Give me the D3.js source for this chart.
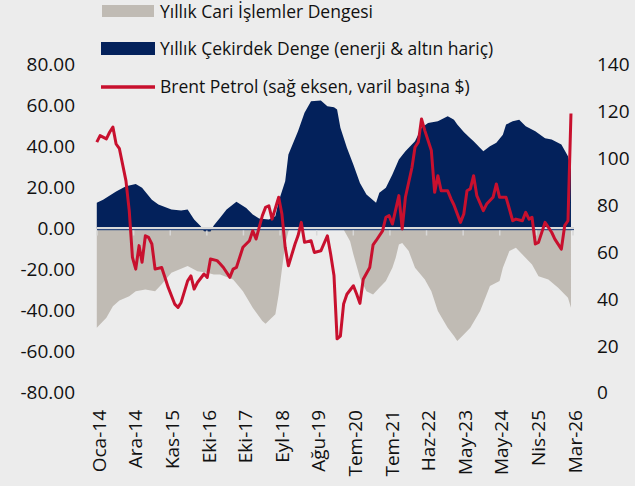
<!DOCTYPE html>
<html><head><meta charset="utf-8">
<script src="https://cdn.jsdelivr.net/npm/d3@7"></script>
<style>html,body{margin:0;padding:0;background:#ECECEC;} svg{display:block;}</style>
</head><body><svg id="c" width="635" height="486"></svg>
<script>
// ---------- DATA ----------
const seriesNames = ["Yıllık Cari İşlemler Dengesi", "Yıllık Çekirdek Denge (enerji & altın hariç)", "Brent Petrol (sağ eksen, varil başına $)"];

const currentDates = ["2014-01","2014-04","2014-06","2014-08","2014-11","2015-01","2015-04","2015-07","2015-09","2015-12","2016-05","2016-08","2016-11","2017-01","2017-03","2017-07","2017-10","2018-01","2018-04","2018-05","2018-08","2018-09","2018-10","2018-11","2018-12","2019-02","2019-05","2019-08","2019-11","2020-02","2020-04","2020-05","2020-07","2020-08","2020-10","2020-12","2021-02","2021-04","2021-06","2021-08","2021-09","2021-10","2021-11","2022-01","2022-03","2022-06","2022-08","2022-10","2023-01","2023-03","2023-04","2023-06","2023-08","2023-11","2024-01","2024-02","2024-05","2024-06","2024-08","2024-10","2024-12","2025-03","2025-05","2025-08","2025-11","2026-02","2026-03"];
const currentValues = [-48.3,-43.4,-37.8,-35,-33,-30.5,-29.7,-30.5,-27.2,-21.5,-18.3,-20.8,-21.5,-22.4,-22.4,-24.8,-30.5,-38.6,-45.1,-46.4,-41.8,-32.1,-20,-7.8,-1.3,3,6,8,7,4,1,-0.5,-6.2,-12.6,-24,-30.5,-32.1,-28.8,-25.6,-19.1,-14.3,-7.8,-7,-11,-19.1,-24.8,-30.5,-40.2,-48.3,-52.4,-54.8,-51.6,-48.3,-40.2,-32.1,-28,-25.6,-19.1,-11,-9.4,-12.6,-17.5,-23.2,-24.8,-28.8,-33.7,-38.6];

const coreDates = ["2014-01","2014-03","2014-07","2014-10","2015-01","2015-03","2015-06","2015-08","2015-12","2016-03","2016-05","2016-07","2016-09","2016-10","2016-12","2017-01","2017-03","2017-05","2017-08","2017-11","2018-01","2018-03","2018-06","2018-08","2018-09","2018-11","2018-12","2019-03","2019-05","2019-07","2019-10","2019-12","2020-02","2020-03","2020-04","2020-06","2020-08","2020-10","2020-12","2021-03","2021-04","2021-06","2021-08","2021-10","2021-12","2022-03","2022-05","2022-07","2022-10","2023-01","2023-02","2023-03","2023-04","2023-06","2023-08","2023-09","2023-12","2024-02","2024-04","2024-06","2024-07","2024-09","2024-11","2025-01","2025-04","2025-07","2025-09","2025-12","2026-02","2026-03"];
const coreValues = [12.5,14,18,20.6,21.7,19.8,14,11.7,9.2,8.8,9.2,4.4,1.1,-1.3,-1.5,1.5,5.2,9.2,13,10,6.8,4.9,4.4,6,13.3,23,36,47.3,56.3,62,62.3,59.5,59,57.9,49,39.3,31,22.2,16.5,12.5,17.4,19.8,26.3,33.6,37.6,42.5,49,51.4,52.2,54.6,53.8,53,50.6,47,44,42.5,37.6,40,41.7,45.7,50.6,52.2,53,49.8,47.3,44,43.3,40.9,35.2,28.7];

const brentDates = ["2014-01","2014-02","2014-04","2014-05","2014-06","2014-07","2014-08","2014-10","2014-11","2014-12","2015-01","2015-02","2015-03","2015-04","2015-05","2015-06","2015-07","2015-09","2015-10","2015-11","2016-01","2016-02","2016-03","2016-05","2016-06","2016-07","2016-08","2016-10","2016-11","2016-12","2017-02","2017-03","2017-04","2017-06","2017-07","2017-08","2017-10","2017-12","2018-01","2018-02","2018-04","2018-05","2018-06","2018-07","2018-09","2018-10","2018-11","2018-12","2019-02","2019-03","2019-04","2019-05","2019-07","2019-08","2019-10","2019-12","2020-01","2020-02","2020-03","2020-04","2020-05","2020-06","2020-08","2020-09","2020-10","2020-11","2021-01","2021-02","2021-03","2021-05","2021-06","2021-07","2021-08","2021-10","2021-11","2021-12","2022-02","2022-03","2022-04","2022-05","2022-06","2022-08","2022-09","2022-10","2022-11","2023-01","2023-02","2023-03","2023-05","2023-06","2023-07","2023-08","2023-09","2023-10","2023-12","2024-01","2024-03","2024-04","2024-05","2024-07","2024-09","2024-10","2024-12","2025-01","2025-02","2025-03","2025-04","2025-05","2025-07","2025-09","2025-10","2025-12","2026-01","2026-02","2026-03"];
const brentValues = [106.8,109.6,108.2,111,113.2,106,104,90.4,77.6,57.7,52.7,62.7,55.6,66.9,66.2,63.4,52.7,53.4,49.2,44.9,37.8,36.4,38.5,47.7,49.8,44.2,47,50.6,49.2,57,56.3,55,53.4,49.2,52.7,53.4,62,64.8,69,65.5,75.5,79,79.7,74,83.3,76.2,62,54.1,63.4,66.9,72.6,64.1,64.8,59.8,60.5,66.9,59,50,23,24.2,37.8,42,45.6,42,38.1,48.4,53.4,63,64.8,69,74.8,75.5,71.9,84,69.8,83.3,96.1,104.6,106.8,116.7,111.7,103.2,85.4,92.5,86.1,86.1,82.6,80,72.6,76.2,86.1,86.9,92.5,84,77.6,80.4,83.3,89,83.3,83.3,73.3,74,73.3,76.9,74,74.8,63.4,64.1,72.6,68.4,65.5,61.2,71.2,73.3,119];

const tickDates = ["2014-01-03","2014-12-12","2015-11-20","2016-10-28","2017-10-06","2018-09-14","2019-08-23","2020-07-31","2021-07-09","2022-06-17","2023-05-26","2024-05-03","2025-04-11","2026-03-20"];
const tickLabels = ["Oca-14","Ara-14","Kas-15","Eki-16","Eki-17","Eyl-18","Ağu-19","Tem-20","Tem-21","Haz-22","May-23","May-24","Nis-25","Mar-26"];
const leftTicks = [-80,-60,-40,-20,0,20,40,60,80];
const rightTicks = [0,20,40,60,80,100,120,140];

// ---------- DRAW ----------
const pm = d3.timeParse("%Y-%m");
const pd = d3.timeParse("%Y-%m-%d");
const svg = d3.select("#c");
const FONT = "'Open Sans', 'Noto Sans', sans-serif";
const C_GREY = "#C0BBB4", C_NAVY = "#03215B", C_RED = "#C8102E";

const x = d3.scaleTime().domain([pd(tickDates[0]), pd(tickDates[tickDates.length-1])]).range([97, 573]);
const yL = d3.scaleLinear().domain([-80, 80]).range([392.8, 64.2]);
const yR = d3.scaleLinear().domain([0, 140]).range([392.8, 64.2]);

svg.append("rect").attr("width",635).attr("height",486).attr("fill","#ECECEC");

const cur = currentDates.map((d,i)=>({date:pm(d), v:currentValues[i]}));
const core = coreDates.map((d,i)=>({date:pm(d), v:coreValues[i]}));
const brent = brentDates.map((d,i)=>({date:pm(d), v:brentValues[i]}));

const area = d3.area().x(d=>x(d.date)).y0(yL(0)).y1(d=>yL(d.v));
svg.append("path").datum(cur).attr("d", area).attr("fill", C_GREY);
svg.append("path").datum(core).attr("d", area).attr("fill", C_NAVY);

// zero axis
const z = yL(0);
svg.append("line").attr("x1",97).attr("x2",574).attr("y1",z-0.6).attr("y2",z-0.6).attr("stroke","#D9D9D9").attr("stroke-width",2);
svg.append("line").attr("x1",97).attr("x2",574).attr("y1",z+1.2).attr("y2",z+1.2).attr("stroke","#2F4C80").attr("stroke-width",1.3);
svg.selectAll(".tk").data(tickDates).enter().append("line")
  .attr("x1",d=>x(pd(d))).attr("x2",d=>x(pd(d))).attr("y1",z+2).attr("y2",z+7)
  .attr("stroke","#D9D9D9").attr("stroke-width",1.5);

svg.append("path").datum(brent)
  .attr("d", d3.line().x(d=>x(d.date)).y(d=>yR(d.v)))
  .attr("fill","none").attr("stroke",C_RED).attr("stroke-width",3).attr("stroke-linejoin","round");

// left axis labels
svg.selectAll(".yl").data(leftTicks).enter().append("text")
  .attr("x",75).attr("y",d=>yL(d)).attr("dy","0.35em").attr("text-anchor","end")
  .attr("font-family",FONT).attr("font-size",19).attr("fill","#111")
  .text(d=>d.toFixed(2));
// right axis labels
svg.selectAll(".yr").data(rightTicks).enter().append("text")
  .attr("x",597).attr("y",d=>yR(d)).attr("dy","0.35em").attr("text-anchor","start")
  .attr("font-family",FONT).attr("font-size",19).attr("fill","#111")
  .text(d=>String(d));
// x labels
svg.selectAll(".xl").data(tickDates).enter().append("text")
  .attr("transform",d=>`translate(${x(pd(d))+2},410) rotate(-90)`)
  .attr("dy","0.35em").attr("text-anchor","end")
  .attr("font-family",FONT).attr("font-size",19).attr("fill","#111")
  .text((d,i)=>tickLabels[i]);

// legend
const lg = svg.append("g");
lg.append("rect").attr("x",102).attr("y",5).attr("width",52).attr("height",12).attr("fill",C_GREY);
lg.append("rect").attr("x",101).attr("y",42).attr("width",54).attr("height",13).attr("fill",C_NAVY);
lg.append("line").attr("x1",101).attr("x2",155).attr("y1",87).attr("y2",87).attr("stroke",C_RED).attr("stroke-width",3.5);
[12, 48.5, 87].forEach((yy,i)=>{
  lg.append("text").attr("x",160).attr("y",yy).attr("dy","0.35em")
    .attr("font-family",FONT).attr("font-size",17.5).attr("fill","#111").text(seriesNames[i]);
});
</script>
</body></html>
